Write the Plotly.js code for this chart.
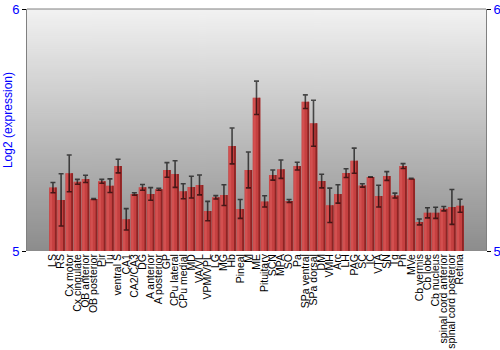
<!DOCTYPE html>
<html><head><meta charset="utf-8">
<script src="https://cdn.plot.ly/plotly-3.0.1.min.js"></script>
<style>html,body{margin:0;padding:0;background:#fff}#c{width:500px;height:350px}</style>
</head><body><div id="c"></div>
<script>
var regions = ["LS","RS","Cx motor","Cx cingulate","OB anterior","OB posterior","Pir","Tu","ventral S","CA1","CA2/CA3","DG","A anterior","A posterior","GP","CPu lateral","CPu medial","MD","VA/VL","VPM/VPL","LG","MG","Hb","Pineal","M","ME","Pituitary","SCN","MPA","SO","Pa","SPa ventral","SPa dorsal","DM","VMH","Arc","LH","PAG","SC","IC","VTA","SN","Tg","Pn","MVe","Cb vermis","Cb lobe","Cb nucleus","spinal cord anterior","spinal cord posterior","Retina"];
var expression = [5.262,5.211,5.321,5.286,5.298,5.215,5.288,5.270,5.351,5.131,5.236,5.263,5.236,5.255,5.335,5.318,5.247,5.264,5.273,5.165,5.222,5.231,5.434,5.174,5.335,5.633,5.205,5.314,5.338,5.207,5.351,5.617,5.528,5.289,5.189,5.236,5.322,5.373,5.271,5.306,5.227,5.310,5.229,5.351,5.299,5.120,5.158,5.158,5.175,5.182,5.187];
var errors = [0.021,0.108,0.076,0.010,0.015,0.002,0.008,0.028,0.028,0.044,0.005,0.012,0.026,0.004,0.030,0.055,0.031,0.045,0.041,0.040,0.007,0.043,0.074,0.039,0.074,0.069,0.023,0.021,0.038,0.006,0.016,0.028,0.095,0.028,0.071,0.038,0.018,0.052,0.007,0.001,0.045,0.018,0.010,0.010,0.001,0.012,0.021,0.023,0.009,0.072,0.027];
var yTicks = [5,6];

// background gradient image
var cv = document.createElement('canvas'); cv.width = 4; cv.height = 242;
var ctx = cv.getContext('2d');
var g = ctx.createLinearGradient(0,0,0,242);
g.addColorStop(0,'#f2f2f2'); g.addColorStop(1,'#8c8c8c');
ctx.fillStyle = g; ctx.fillRect(0,0,4,242);
var bg = cv.toDataURL();

var traces = [
 {type:'bar', x:regions, y:expression, marker:{color:'#c54040', line:{width:0}}, hoverinfo:'skip', showlegend:false},
 {type:'bar', x:regions, y:expression, width:0.22, offset:0.24, marker:{color:'#8e2424', line:{width:0}}, hoverinfo:'skip', showlegend:false},
 {type:'bar', x:regions, y:expression, width:0.3, offset:-0.4, marker:{color:'rgba(225,95,95,0.5)', line:{width:0}}, hoverinfo:'skip', showlegend:false},
 {type:'scatter', mode:'markers', x:regions, y:expression, marker:{opacity:0,size:1}, hoverinfo:'skip', showlegend:false,
  error_y:{type:'data', array:errors, visible:true, color:'rgba(0,0,0,0.65)', thickness:1.6, width:2.5}},
 {type:'scatter', mode:'markers', x:[regions[0]], y:[yTicks[0]], yaxis:'y2', marker:{opacity:0,size:1}, hoverinfo:'skip', showlegend:false}
];

var layout = {
 width:500, height:350,
 margin:{l:27, r:14, t:9, b:99, pad:0},
 paper_bgcolor:'#ffffff', plot_bgcolor:'rgba(0,0,0,0)',
 barmode:'overlay', bargap:0.06,
 font:{family:'Liberation Sans, Arial, sans-serif', color:'#000'},
 xaxis:{type:'category', tickmode:'array', tickvals:regions, ticktext:regions, tickangle:-90, tickfont:{size:10.5, color:'#000'},
   showline:false, showgrid:false, ticks:'', zeroline:false, fixedrange:true},
 yaxis:{range:[5,6], tickvals:yTicks, ticktext:yTicks.map(String), tickfont:{size:13, color:'#0000ff'}, showgrid:false, zeroline:false,
   showline:true, linecolor:'#808080', linewidth:1, ticks:'outside', ticklen:4, tickcolor:'#000', tickwidth:1},
 yaxis2:{range:[5,6], overlaying:'y', side:'right', tickvals:yTicks, ticktext:yTicks.map(String), tickfont:{size:13, color:'#0000ff'}, showgrid:false, zeroline:false,
   showline:true, linecolor:'#808080', linewidth:1, ticks:'outside', ticklen:4, tickcolor:'#000', tickwidth:1},
 shapes:[{type:'line', xref:'paper', yref:'paper', x0:0, x1:1, y0:1, y1:1, line:{color:'#808080', width:1}}],
 images:[{source:bg, xref:'paper', yref:'paper', x:0, y:1, sizex:1, sizey:1, sizing:'stretch', layer:'below', xanchor:'left', yanchor:'top'}],
 annotations:[{text:'Log2 (expression)', xref:'paper', yref:'paper', x:-0.0414, y:0.541, textangle:-90, showarrow:false,
   xanchor:'center', yanchor:'middle', font:{size:12, color:'#0000ff'}}]
};
Plotly.newPlot('c', traces, layout, {staticPlot:true, displayModeBar:false});
</script></body></html>
